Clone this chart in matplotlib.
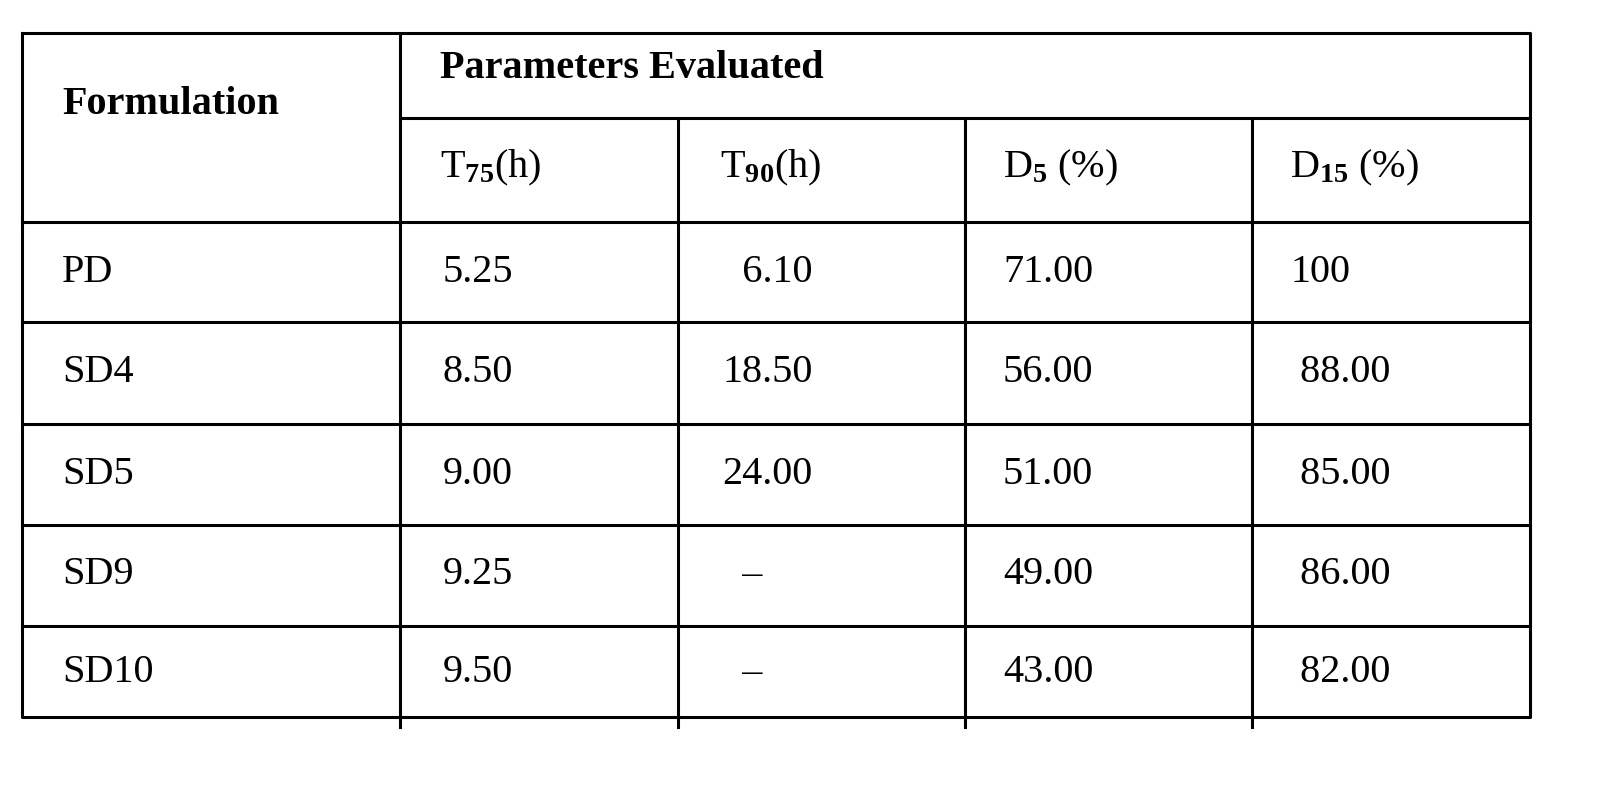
import matplotlib
matplotlib.use('Agg')
import matplotlib.pyplot as plt

plt.rcParams['font.family'] = 'Liberation Serif'
plt.rcParams['mathtext.fontset'] = 'custom'
plt.rcParams['mathtext.rm'] = 'Liberation Serif:bold'
plt.rcParams['mathtext.it'] = 'Liberation Serif:bold'
plt.rcParams['mathtext.bf'] = 'Liberation Serif:bold'

formulations = ['PD', 'SD4', 'SD5', 'SD9', 'SD10']
t75 = ['5.25', '8.50', '9.00', '9.25', '9.50']
t90 = ['  6.10', '18.50', '24.00', '  \u2013', '  \u2013']
d5 = ['71.00', '56.00', '51.00', '49.00', '43.00']
d15 = ['100', ' 88.00', ' 85.00', ' 86.00', ' 82.00']
sub_headers = [r'T$_{75}$(h)', r'T$_{90}$(h)', r'D$_{5}$ (%)', r'D$_{15}$ (%)']

fig = plt.figure(figsize=(16.14, 8.0), dpi=100)
ax = fig.add_axes([0, 0, 1, 1])
ax.set_xlim(0, 1614)
ax.set_ylim(800, 0)
ax.axis('off')

left, right, top, bottom = 22, 1530, 33, 717
col_x = [400, 678, 965, 1252]
row_y = [222, 322, 424, 525, 626]
lw = 2.2
ax.plot([left, right, right, left, left], [top, top, bottom, bottom, top], color='black', lw=lw)
ax.plot([col_x[0], right], [118, 118], color='black', lw=lw)
for y in row_y:
    ax.plot([left, right], [y, y], color='black', lw=lw)
ax.plot([col_x[0], col_x[0]], [top, 727], color='black', lw=lw)
for x in col_x[1:]:
    ax.plot([x, x], [118, 727], color='black', lw=lw)

fs = 29
ax.text(62, 105, 'Formulation', fontsize=fs, fontweight='bold', va='center')
ax.text(440, 68, 'Parameters Evaluated', fontsize=fs, fontweight='bold', va='center')
sub_x = [440, 720, 1003, 1290]
for x, h in zip(sub_x, sub_headers):
    ax.text(x, 168, h, fontsize=fs, va='center')

text_y = [272, 373, 474, 575, 672]
data_x = [62, 443, 722, 1003, 1290]
for i, y in enumerate(text_y):
    for x, col in zip(data_x, [formulations, t75, t90, d5, d15]):
        ax.text(x, y, col[i], fontsize=fs, va='center')

fig.savefig('out.png', dpi=100, facecolor='white')
